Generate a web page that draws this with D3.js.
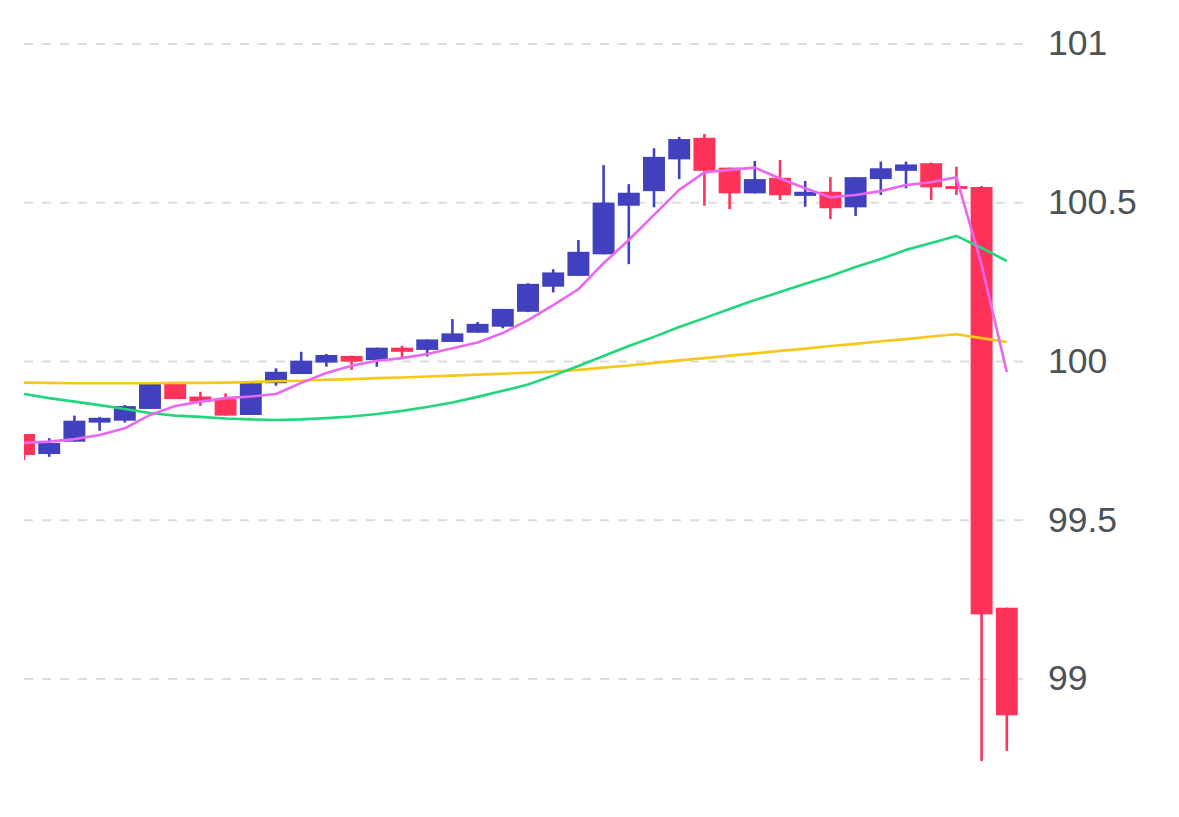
<!DOCTYPE html>
<html>
<head>
<meta charset="utf-8">
<script src="https://cdn.jsdelivr.net/npm/d3@7"></script>
<style>
  html, body { margin: 0; padding: 0; background: #ffffff; }
  svg { display: block; }
</style>
</head>
<body>
<svg id="chart" width="1179" height="817"></svg>
<script>
// ---- data ----
const openVals  = [99.770, 99.707, 99.746, 99.806, 99.812, 99.849, 99.928, 99.888, 99.880, 99.830,
                   99.930, 99.959, 99.995, 100.016, 100.003, 100.042, 100.035, 100.060, 100.089, 100.108,
                   100.155, 100.234, 100.268, 100.336, 100.489, 100.535, 100.635, 100.703, 100.609, 100.528,
                   100.577, 100.520, 100.533, 100.484, 100.573, 100.599, 100.623, 100.551, 100.548, 99.223];
const highVals  = [99.770, 99.757, 99.828, 99.824, 99.861, 99.931, 99.928, 99.903, 99.898, 99.930,
                   99.977, 100.029, 100.022, 100.017, 100.042, 100.048, 100.068, 100.132, 100.123, 100.164,
                   100.245, 100.289, 100.381, 100.617, 100.557, 100.670, 100.706, 100.715, 100.609, 100.630,
                   100.633, 100.567, 100.579, 100.579, 100.628, 100.628, 100.625, 100.612, 100.551, 99.223];
const lowVals   = [99.688, 99.698, 99.746, 99.780, 99.806, 99.849, 99.880, 99.859, 99.828, 99.830,
                   99.922, 99.959, 99.982, 99.972, 99.982, 100.009, 100.014, 100.060, 100.089, 100.103,
                   100.154, 100.216, 100.268, 100.336, 100.305, 100.484, 100.573, 100.489, 100.478, 100.528,
                   100.507, 100.486, 100.447, 100.457, 100.523, 100.544, 100.507, 100.523, 98.740, 98.772];
const closeVals = [99.704, 99.742, 99.812, 99.821, 99.858, 99.928, 99.880, 99.872, 99.828, 99.930,
                   99.966, 100.001, 100.019, 99.998, 100.042, 100.029, 100.068, 100.087, 100.117, 100.164,
                   100.243, 100.279, 100.344, 100.499, 100.530, 100.643, 100.699, 100.599, 100.528, 100.573,
                   100.522, 100.533, 100.481, 100.579, 100.607, 100.619, 100.547, 100.542, 99.202, 98.884];

// moving-average lines as drawn in the picture
const maShort = [99.742, 99.746, 99.754, 99.767, 99.788, 99.830, 99.858, 99.872, 99.883, 99.888,
                 99.896, 99.931, 99.962, 99.985, 100.001, 100.009, 100.022, 100.040, 100.058, 100.088,
                 100.129, 100.176, 100.226, 100.308, 100.381, 100.460, 100.539, 100.594, 100.602, 100.609,
                 100.575, 100.544, 100.516, 100.523, 100.535, 100.554, 100.563, 100.579, 100.303, 99.965];
const maMid   = [99.896, 99.883, 99.872, 99.861, 99.849, 99.836, 99.828, 99.824, 99.819, 99.816,
                 99.814, 99.816, 99.820, 99.825, 99.833, 99.843, 99.855, 99.869, 99.887, 99.906,
                 99.926, 99.954, 99.984, 100.016, 100.047, 100.076, 100.107, 100.135, 100.164, 100.192,
                 100.217, 100.243, 100.268, 100.296, 100.321, 100.350, 100.372, 100.394, 100.356, 100.315];
const maLong  = [99.932, 99.931, 99.930, 99.930, 99.930, 99.930, 99.931, 99.931, 99.932, 99.934,
                 99.936, 99.938, 99.941, 99.943, 99.946, 99.948, 99.951, 99.954, 99.957, 99.960,
                 99.963, 99.967, 99.972, 99.979, 99.986, 99.994, 100.002, 100.009, 100.017, 100.024,
                 100.032, 100.039, 100.047, 100.054, 100.062, 100.069, 100.077, 100.084, 100.072, 100.060];

const yTicks = [99, 99.5, 100, 100.5, 101];
const categories = d3.range(openVals.length);

// ---- colours ----
const upColor = "#4141bf";
const downColor = "#ff335a";
const maColors = ["#e868ef", "#22d77a", "#f6c817"];

// ---- layout ----
const svg = d3.select("#chart");
const plotLeft = 24, plotRight = 1025;

const x = d3.scaleLinear().domain([0, categories.length - 1]).range([24, 1006.8]);
const step = x(1) - x(0);
const bodyW = step * 0.87;
const y = d3.scaleLinear().domain([99, 101]).range([678.5, 43.5]);

// grid + labels
const axis = d3.axisRight(y)
  .tickValues(yTicks)
  .tickSize(plotRight - plotLeft)
  .tickPadding(23)
  .tickFormat(d3.format("~g"));

const gAxis = svg.append("g")
  .attr("transform", `translate(${plotLeft},0)`)
  .call(axis);
gAxis.select(".domain").remove();
gAxis.selectAll(".tick line")
  .attr("stroke", "#dcdcdc")
  .attr("stroke-width", 2)
  .attr("stroke-dasharray", "9,9");
gAxis.selectAll(".tick text")
  .attr("fill", "#4d5258")
  .style("font-family", "'Liberation Sans', Arial, Helvetica, sans-serif")
  .style("font-size", "35.5px");

// clip
svg.append("clipPath").attr("id", "plotClip")
  .append("rect").attr("x", plotLeft).attr("y", 0)
  .attr("width", 1179 - plotLeft).attr("height", 817);

const plot = svg.append("g").attr("clip-path", "url(#plotClip)");

const candles = categories.map(i => ({
  i, o: openVals[i], h: highVals[i], l: lowVals[i], c: closeVals[i]
}));

const cg = plot.append("g").selectAll("g").data(candles).join("g");
cg.append("line")
  .attr("x1", d => x(d.i)).attr("x2", d => x(d.i))
  .attr("y1", d => y(d.h)).attr("y2", d => y(d.l))
  .attr("stroke", d => d.c >= d.o ? upColor : downColor)
  .attr("stroke-width", 2.6);
cg.append("rect")
  .attr("x", d => x(d.i) - bodyW / 2)
  .attr("width", bodyW)
  .attr("y", d => y(Math.max(d.o, d.c)))
  .attr("height", d => Math.max(2.5, Math.abs(y(d.o) - y(d.c))))
  .attr("fill", d => d.c >= d.o ? upColor : downColor);

// MA lines
const line = d3.line().x((d, i) => x(i)).y(d => y(d));
[maLong, maMid, maShort].forEach((s, k) => {
  plot.append("path")
    .datum(s)
    .attr("d", line)
    .attr("fill", "none")
    .attr("stroke", [maColors[2], maColors[1], maColors[0]][k])
    .attr("stroke-width", 2.6)
    .attr("stroke-linejoin", "round");
});
</script>
</body>
</html>
